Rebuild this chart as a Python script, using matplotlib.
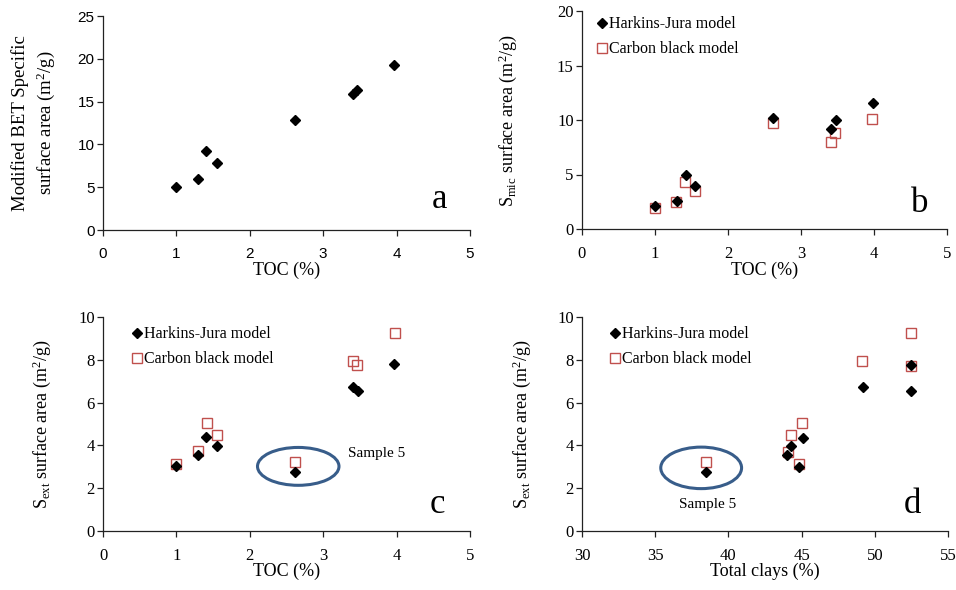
import numpy as np
import matplotlib
matplotlib.use('Agg')
import matplotlib.pyplot as plt
from matplotlib.patches import Ellipse
from matplotlib.lines import Line2D

plt.rcParams['font.family'] = 'Liberation Serif'
plt.rcParams['mathtext.fontset'] = 'custom'
plt.rcParams['mathtext.rm'] = 'Liberation Serif'
plt.rcParams['mathtext.it'] = 'Liberation Serif:italic'

# panel a: modified BET specific surface area vs TOC
toc_a = [1.00, 1.29, 1.41, 1.55, 2.61, 3.40, 3.46, 3.97]
bet_a = [5.0, 6.0, 9.2, 7.8, 12.9, 15.85, 16.4, 19.25]

# panel b: micropore surface area vs TOC
toc_b_hj = [1.00, 1.30, 1.42, 1.55, 2.62, 3.41, 3.48, 3.98]
smic_hj = [2.08, 2.53, 4.92, 3.9, 10.17, 9.16, 10.0, 11.54]
toc_b_cb = [1.00, 1.29, 1.41, 1.55, 2.61, 3.41, 3.46, 3.97]
smic_cb = [1.95, 2.5, 4.27, 3.45, 9.77, 8.0, 8.8, 10.08]

# panel c: external surface area vs TOC
toc_c_hj = [1.00, 1.29, 1.41, 1.55, 2.61, 3.41, 3.47, 3.97]
sext_c_hj = [3.02, 3.57, 4.37, 3.95, 2.74, 6.71, 6.54, 7.8]
toc_c_cb = [1.00, 1.29, 1.42, 1.55, 2.61, 3.40, 3.46, 3.98]
sext_c_cb = [3.15, 3.72, 5.04, 4.5, 3.22, 7.94, 7.78, 9.27]

# panel d: external surface area vs total clays
clay_hj = [38.45, 44.0, 44.27, 45.07, 44.84, 49.16, 52.45, 52.45]
sext_d_hj = [2.76, 3.55, 3.98, 4.34, 2.99, 6.71, 6.53, 7.78]
clay_cb = [38.45, 44.05, 44.25, 45.05, 44.85, 49.12, 52.45, 52.45]
sext_d_cb = [3.22, 3.67, 4.47, 5.04, 3.15, 7.94, 7.7, 9.27]

# sample 5 highlight (center x, center y, width, height)
ell_c = (2.66, 3.02, 1.11, 1.77)
ell_d = (38.14, 2.95, 5.52, 1.94)

red = '#C0504D'
blue = '#385D8A'
W, H = 956, 590

fig = plt.figure(figsize=(W / 100, H / 100), dpi=100)


def make_ax(l, r, t, b):
    ax = fig.add_axes([l / W, (H - b) / H, (r - l) / W, (b - t) / H])
    ax.spines['top'].set_visible(False)
    ax.spines['right'].set_visible(False)
    for s in ['left', 'bottom']:
        ax.spines[s].set_linewidth(0.9)
        ax.spines[s].set_color('#222222')
    ax.tick_params(direction='out', length=4, width=0.9, color='#222222',
                   labelsize=12, pad=2)
    ax.tick_params(axis='x', pad=8)
    return ax


def hj(ax, x, y):
    ax.plot(x, y, 'D', color='black', ms=5.2, zorder=4)


def cb(ax, x, y):
    ax.plot(x, y, 's', mfc='none', mec=red, ms=6.5, mew=1.0, zorder=3)


def legend(ax, x, y):
    handles = [Line2D([], [], ls='none', marker='D', color='black', ms=5.2),
               Line2D([], [], ls='none', marker='s', mfc='none', mec=red, ms=6.5, mew=1.0)]
    ax.legend(handles, ['Harkins-Jura model', 'Carbon black model'], loc='upper left',
              bbox_to_anchor=(x, y), frameon=False, fontsize=11.5, handlelength=0.7,
              handletextpad=0.1, labelspacing=0.55, borderpad=0, borderaxespad=0)


def letter(ax, x, y, s):
    ax.text(x, y, s, fontsize=25, ha='center', va='baseline')


# a
ax = make_ax(103, 470, 16, 230)
ax.plot(toc_a, bet_a, 'D', color='black', ms=5.2)
ax.set_xlim(0, 5)
ax.set_ylim(0, 25)
ax.set_yticks(np.arange(0, 26, 5))
for lab in ax.get_xticklabels() + ax.get_yticklabels():
    lab.set_fontfamily('Liberation Sans')
    lab.set_fontsize(11)
ax.set_xlabel('TOC (%)', fontsize=13)
ax.set_ylabel('Modified BET Specific\nsurface area (m$^2$/g)', fontsize=13.5, linespacing=1.35)
ax.xaxis.set_label_coords(0.5, -0.15)
ax.yaxis.set_label_coords(-0.125, 0.5)
letter(ax, 4.59, 2.6, 'a')

# b
ax = make_ax(582, 947, 11, 229)
cb(ax, toc_b_cb, smic_cb)
hj(ax, toc_b_hj, smic_hj)
ax.set_xlim(0, 5)
ax.set_ylim(0, 20)
ax.set_yticks(np.arange(0, 21, 5))
ax.set_xlabel('TOC (%)', fontsize=13)
ax.set_ylabel('S$_{\\mathrm{mic}}$ surface area (m$^2$/g)', fontsize=13)
ax.xaxis.set_label_coords(0.5, -0.15)
ax.yaxis.set_label_coords(-0.172, 0.5)
legend(ax, 0.040, 0.975)
letter(ax, 4.62, 1.56, 'b')

# c
ax = make_ax(103, 470, 317, 531)
cb(ax, toc_c_cb, sext_c_cb)
hj(ax, toc_c_hj, sext_c_hj)
ax.add_patch(Ellipse(ell_c[:2], ell_c[2], ell_c[3], fill=False, ec=blue, lw=2.2, zorder=5))
ax.text(3.34, 3.6, 'Sample 5', fontsize=11, ha='left', va='center')
ax.set_xlim(0, 5)
ax.set_ylim(0, 10)
ax.set_yticks(np.arange(0, 11, 2))
ax.set_xlabel('TOC (%)', fontsize=13)
ax.set_ylabel('S$_{\\mathrm{ext}}$ surface area (m$^2$/g)', fontsize=13)
ax.xaxis.set_label_coords(0.5, -0.15)
ax.yaxis.set_label_coords(-0.136, 0.5)
legend(ax, 0.078, 0.956)
letter(ax, 4.55, 0.84, 'c')

# d
ax = make_ax(582, 948, 317, 531)
cb(ax, clay_cb, sext_d_cb)
hj(ax, clay_hj, sext_d_hj)
ax.add_patch(Ellipse(ell_d[:2], ell_d[2], ell_d[3], fill=False, ec=blue, lw=2.2, zorder=5))
ax.text(38.6, 1.26, 'Sample 5', fontsize=11, ha='center', va='center')
ax.set_xlim(30, 55)
ax.set_ylim(0, 10)
ax.set_xticks(np.arange(30, 56, 5))
ax.set_yticks(np.arange(0, 11, 2))
ax.set_xlabel('Total clays (%)', fontsize=13)
ax.set_ylabel('S$_{\\mathrm{ext}}$ surface area (m$^2$/g)', fontsize=13)
ax.xaxis.set_label_coords(0.5, -0.15)
ax.yaxis.set_label_coords(-0.134, 0.5)
legend(ax, 0.075, 0.956)
letter(ax, 52.54, 0.84, 'd')

fig.savefig('out.png', dpi=100)
